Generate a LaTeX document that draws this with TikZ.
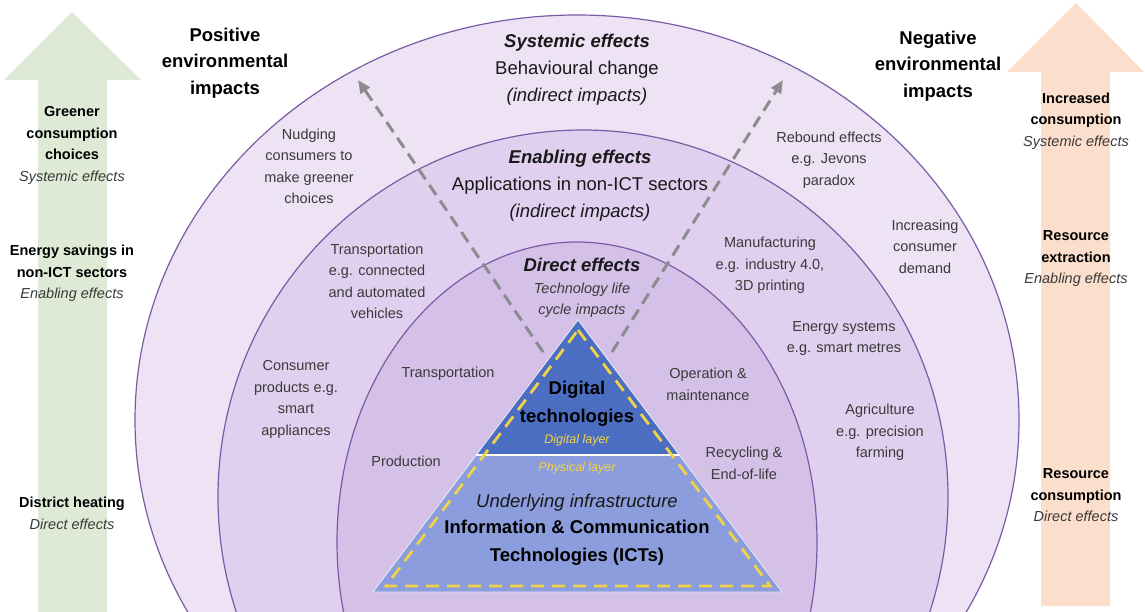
\documentclass[tikz,border=0pt]{standalone}
\usepackage{fontspec}
\setmainfont{Liberation Sans}
\usetikzlibrary{arrows.meta}
\definecolor{ringline}{HTML}{7A5CA6}
\definecolor{outerfill}{HTML}{EDE3F5}
\definecolor{midfill}{HTML}{E0CFEE}
\definecolor{innerfill}{HTML}{D5C0E8}
\definecolor{greenarrow}{HTML}{DEEAD6}
\definecolor{peacharrow}{HTML}{FBDECB}
\definecolor{topblue}{HTML}{4B6EC2}
\definecolor{lowblue}{HTML}{8B9DDC}
\definecolor{dashyellow}{HTML}{F0D348}
\definecolor{dashgray}{HTML}{8C8C8C}
\definecolor{txtgray}{HTML}{3A3A3A}
\newcommand\myfs[2]{\fontsize{#1}{#2}\selectfont}
\begin{document}
\begin{tikzpicture}[x=1pt,y=-1pt,
  ring/.style={draw=ringline, line width=1.2pt},
  lbl/.style={align=center, inner sep=0pt, text=txtgray, font=\myfs{14.5}{21.5}},
  sidelbl/.style={align=center, inner sep=0pt, text=black, font=\myfs{14.5}{21.5}},
  headlbl/.style={align=center, inner sep=0pt, text=black, font=\myfs{18.5}{26.5}\bfseries},
  biglbl/.style={align=center, inner sep=0pt, text=black!90, font=\myfs{18.5}{27}},
  layerlbl/.style={inner sep=0pt, text=dashyellow, font=\myfs{12.5}{14}\itshape},
  dasharrow/.style={draw=dashgray, line width=3pt, dash pattern=on 12pt off 7pt,
     -{Triangle[length=13pt,width=11pt]}},
  yellowdash/.style={draw=dashyellow, line width=2.8pt, dash pattern=on 13pt off 8pt}
]
\useasboundingbox (0,0) rectangle (1145,612);
\fill[white] (0,0) rectangle (1145,612);
\begin{scope}
\clip (0,0) rectangle (1145,612);
% side arrows
\fill[greenarrow] (38,612) -- (38,80) -- (4,80) -- (72,12) -- (141,80) -- (107,80) -- (107,612) -- cycle;
\fill[peacharrow] (1041,606) -- (1041,72) -- (1007,72) -- (1076,3) -- (1144,72) -- (1110,72) -- (1110,606) -- cycle;
% rings
\path[ring, fill=outerfill] (577,420) ellipse [x radius=442pt, y radius=405pt];
\path[ring, fill=midfill] (583,497) ellipse [x radius=365pt, y radius=367pt];
\path[ring, fill=innerfill] (577,542) ellipse [x radius=240pt, y radius=300pt];
\end{scope}

% pyramid
\coordinate (apex) at (578,320);
\coordinate (bl) at (373,592);
\coordinate (br) at (782,592);
\coordinate (ml) at (476.3,455);
\coordinate (mr) at (679.2,455);
\fill[topblue] (apex) -- (ml) -- (mr) -- cycle;
\fill[lowblue] (ml) -- (mr) -- (br) -- (bl) -- cycle;
\draw[white!80!lowblue, line width=0.8pt] (apex) -- (br) -- (bl) -- cycle;
\draw[white, line width=1.5pt] (ml) -- (mr);
\draw[yellowdash] (578,330) -- (770,586) -- (386,586) -- cycle;

% dashed arrows
\coordinate (ls) at (543,352);
\coordinate (lt) at (358,80);
\coordinate (rs) at (612,352);
\coordinate (rt) at (783,80);
\draw[dasharrow] (ls) -- (lt);
\draw[dasharrow] (rs) -- (rt);

% headings
\node[headlbl] (pos) at (225,63) {Positive\\environmental\\impacts};
\node[headlbl] (neg) at (938,66) {Negative\\environmental\\impacts};

% left arrow labels
\node[sidelbl] (g1) at (72,145.5) {\textbf{Greener}\\\textbf{consumption}\\\textbf{choices}\\{\color{txtgray}\itshape Systemic effects}};
\node[sidelbl] (g2) at (72,273.5) {\textbf{Energy savings in}\\\textbf{non-ICT sectors}\\{\color{txtgray}\itshape Enabling effects}};
\node[sidelbl] (g3) at (72,513.5) {\textbf{District heating}\\{\color{txtgray}\itshape Direct effects}};
% right arrow labels
\node[sidelbl] (r1) at (1076,121) {\textbf{Increased}\\\textbf{consumption}\\{\color{txtgray}\itshape Systemic effects}};
\node[sidelbl] (r2) at (1076,259) {\textbf{Resource}\\\textbf{extraction}\\{\color{txtgray}\itshape Enabling effects}};
\node[sidelbl] (r3) at (1076,495.5) {\textbf{Resource}\\\textbf{consumption}\\{\color{txtgray}\itshape Direct effects}};

% ring headings
\node[biglbl] (sys) at (577,70) {\textbf{\itshape Systemic effects}\\Behavioural change\\\textit{(indirect impacts)}};
\node[biglbl] (ena) at (580,186) {\textbf{\itshape Enabling effects}\\Applications in non-ICT sectors\\\textit{(indirect impacts)}};
\node[biglbl] (dir) at (582,265) {\textbf{\itshape Direct effects}};
\node[lbl, font=\myfs{14.5}{21}\itshape] (dirsub) at (582,300.5) {Technology life\\cycle impacts};

% outer ring texts
\node[lbl] (nudge) at (309,166.5) {Nudging\\consumers to\\make greener\\choices};
\node[lbl] (rebound) at (829,160) {Rebound effects\\e.g. Jevons\\paradox};
\node[lbl] (demand) at (925,246.7) {Increasing\\consumer\\demand};
% middle ring texts
\node[lbl] (transp) at (377,281.5) {Transportation\\e.g. connected\\and automated\\vehicles};
\node[lbl] (manuf) at (770,265.7) {Manufacturing\\e.g. industry 4.0,\\3D printing};
\node[lbl] (consumer) at (296,399.5) {Consumer\\products e.g.\\smart\\appliances};
\node[lbl] (energy) at (844,338.5) {Energy systems\\e.g. smart metres};
\node[lbl] (agri) at (880,432.3) {Agriculture\\e.g. precision\\farming};
% inner ring texts
\node[lbl] (transp2) at (448,374) {Transportation};
\node[lbl] (prod) at (406,461) {Production};
\node[lbl] (oper) at (708,384.5) {Operation \&\\maintenance};
\node[lbl] (recyc) at (744,463.5) {Recycling \&\\End-of-life};

% pyramid texts
\node[headlbl, font=\myfs{18.5}{28}\bfseries] (digtech) at (577,404) {Digital\\technologies};
\node[layerlbl] (diglayer) at (577,440) {Digital layer};
\node[layerlbl] (phylayer) at (577,468) {Physical layer};
\node[biglbl, font=\myfs{18.5}{27}\itshape] (under) at (577,503) {Underlying infrastructure};
\node[headlbl, font=\myfs{18.5}{28}\bfseries] (ict) at (577,543) {Information \& Communication\\Technologies (ICTs)};
\end{tikzpicture}
\end{document}
